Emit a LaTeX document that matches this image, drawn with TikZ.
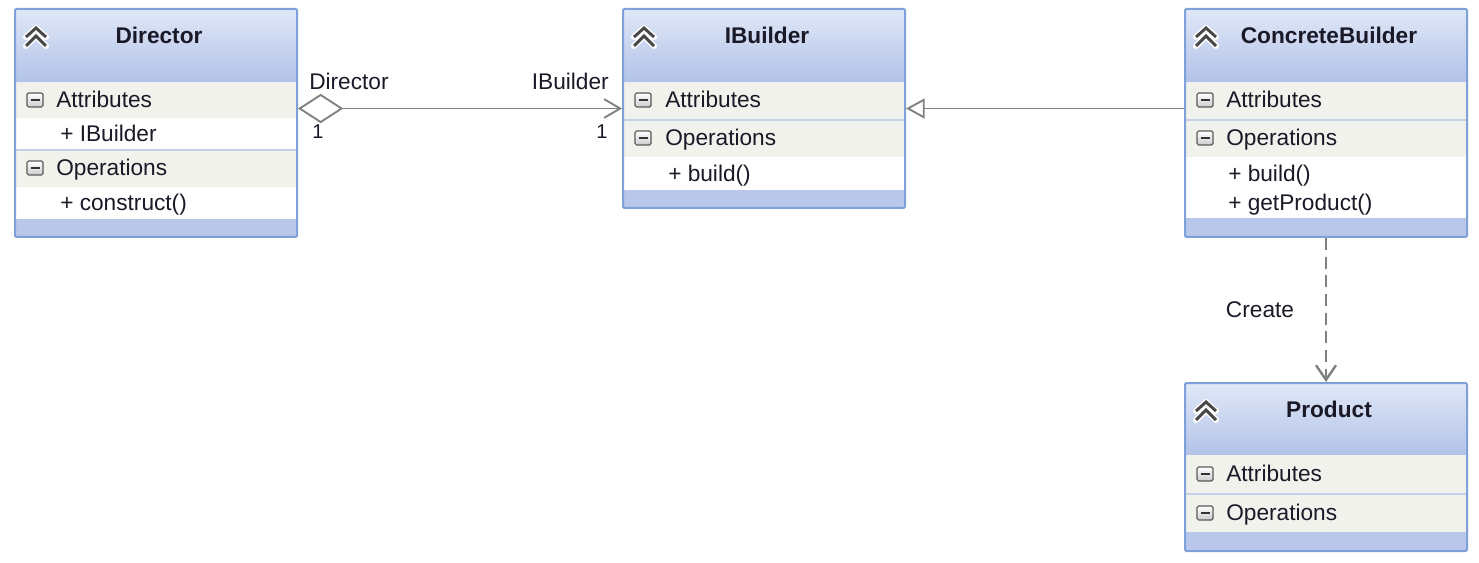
\documentclass[tikz,border=0pt]{standalone}
\usepackage{fontspec}
\setmainfont{Liberation Sans}
\usetikzlibrary{arrows.meta,fit}

\definecolor{umlborder}{RGB}{128,160,218}
\definecolor{headtop}{RGB}{224,231,247}
\definecolor{headbot}{RGB}{178,195,232}
\definecolor{bandblue}{RGB}{184,199,234}
\definecolor{rowgray}{RGB}{242,242,237}
\definecolor{sepline}{RGB}{196,208,232}
\definecolor{linkgray}{RGB}{128,128,128}
\definecolor{txt}{RGB}{25,25,40}

\tikzset{
  classbox/.style={draw=umlborder, line width=1.5pt, inner sep=0pt, rounded corners=1pt},
  classtitle/.style={font=\fontsize{17}{20}\selectfont\bfseries, text=txt, inner sep=0pt,
    text height=1.5ex, text depth=.25ex, yshift=-2pt},
  row/.style={anchor=west, text=txt, inner sep=0pt, text height=1.5ex, text depth=.25ex, yshift=-2.5pt},
  lbl/.style={text=txt, inner sep=0pt, text height=1.5ex, text depth=.25ex, yshift=-2.5pt},
  mult/.style={lbl, font=\fontsize{15}{18}\selectfont},
  sep/.style={draw=sepline, line width=1pt},
  link/.style={draw=linkgray, line width=1.4pt},
  minusicon/.pic={
    \draw[gray!70!black, line width=0.9pt, rounded corners=1.2pt, top color=white, bottom color=gray!40] (-8,-7) rectangle (8,7);
    \draw[black!80, line width=1.8pt] (-4.5,0) -- (4.5,0);
  },
  chevrons/.pic={
    \draw[white, line width=4.5pt, line join=round, line cap=round] (-10,-1) -- (0,-10) -- (10,-1) (-10,8) -- (0,-2) -- (10,8);
    \draw[black!72, line width=2.2pt] (-10,-1) -- (0,-10) -- (10,-1) (-10,8) -- (0,-2) -- (10,8);
  }
}

\begin{document}
\begin{tikzpicture}[x=0.75pt, y=-0.75pt, font=\fontsize{17}{20}\selectfont]

\useasboundingbox (0,0) rectangle (1479,563);

% bands and headers
\foreach \n/\l/\t/\b/\ti in {director/15/9/237/Director, ibuilder/623/9/208/IBuilder,
    concrete/1185/9/237/ConcreteBuilder, product/1185/383/551/Product}{
  \fill[bandblue] (\l,\t) rectangle (\l+282,\b);
  \shade[top color=headtop, bottom color=headbot] (\l,\t) rectangle (\l+282,\t+73);
  \pic at (\l+21,\t+29) {chevrons};
  \node[classtitle] (\n-title) at (\l+144,\t+27) {\ti};
}

% Director
\fill[rowgray] (15,82) rectangle (297,118);
\fill[white] (15,118) rectangle (297,150);
\fill[rowgray] (15,150) rectangle (297,187);
\fill[white] (15,187) rectangle (297,219);
\draw[sep] (15,150) -- (297,150);
\pic at (35,100) {minusicon};
\pic at (35,168) {minusicon};
\node[row] (director-attr) at (56,100) {Attributes};
\node[row] (director-a1) at (60,134) {+ IBuilder};
\node[row] (director-ops) at (56,168) {Operations};
\node[row] (director-o1) at (60,203) {+ construct()};

% IBuilder
\fill[rowgray] (623,82) rectangle (905,119);
\fill[rowgray] (623,120) rectangle (905,157);
\fill[white] (623,157) rectangle (905,190);
\draw[sep] (623,120) -- (905,120);
\pic at (643,100) {minusicon};
\pic at (643,138) {minusicon};
\node[row] (ibuilder-attr) at (665,100) {Attributes};
\node[row] (ibuilder-ops) at (665,138) {Operations};
\node[row] (ibuilder-o1) at (668,174) {+ build()};

% ConcreteBuilder
\fill[rowgray] (1185,82) rectangle (1467,119);
\fill[rowgray] (1185,120) rectangle (1467,157);
\fill[white] (1185,157) rectangle (1467,218);
\draw[sep] (1185,120) -- (1467,120);
\pic at (1205,100) {minusicon};
\pic at (1205,138) {minusicon};
\node[row] (concrete-attr) at (1226,100) {Attributes};
\node[row] (concrete-ops) at (1226,138) {Operations};
\node[row] (concrete-o1) at (1228,174) {+ build()};
\node[row] (concrete-o2) at (1228,203) {+ getProduct()};

% Product
\fill[rowgray] (1185,455) rectangle (1467,493);
\fill[rowgray] (1185,494) rectangle (1467,532);
\draw[sep] (1185,494) -- (1467,494);
\pic at (1205,474) {minusicon};
\pic at (1205,513) {minusicon};
\node[row] (product-attr) at (1226,474) {Attributes};
\node[row] (product-ops) at (1226,513) {Operations};

% outlines
\node[classbox, fit={(15,9) (297,237)}] (director) {};
\node[classbox, fit={(623,9) (905,208)}] (ibuilder) {};
\node[classbox, fit={(1185,9) (1467,237)}] (concrete) {};
\node[classbox, fit={(1185,383) (1467,551)}] (product) {};

% relations
\draw[link, {Diamond[open,length=34pt,width=22pt]}-{Straight Barb[length=12pt,width=14pt]}]
  (director.east |- ibuilder.west) -- (ibuilder.west);
\draw[link, -{Triangle[open,length=14pt,width=15pt]}]
  (concrete.west |- ibuilder.east) -- (ibuilder.east);
\draw[link, line width=1.8pt, dash pattern=on 9pt off 5pt, -{Straight Barb[length=11pt,width=15pt]}]
  (concrete.south) -- (product.north);

\node[lbl, anchor=west] (lbl-director) at (309,82) {Director};
\node[lbl, anchor=east] (lbl-ibuilder) at (609,82) {IBuilder};
\node[mult] (mult-director) at (318,131) {1};
\node[mult] (mult-ibuilder) at (602,131) {1};
\node[lbl] (lbl-create) at (1260,310) {Create};

\end{tikzpicture}
\end{document}
